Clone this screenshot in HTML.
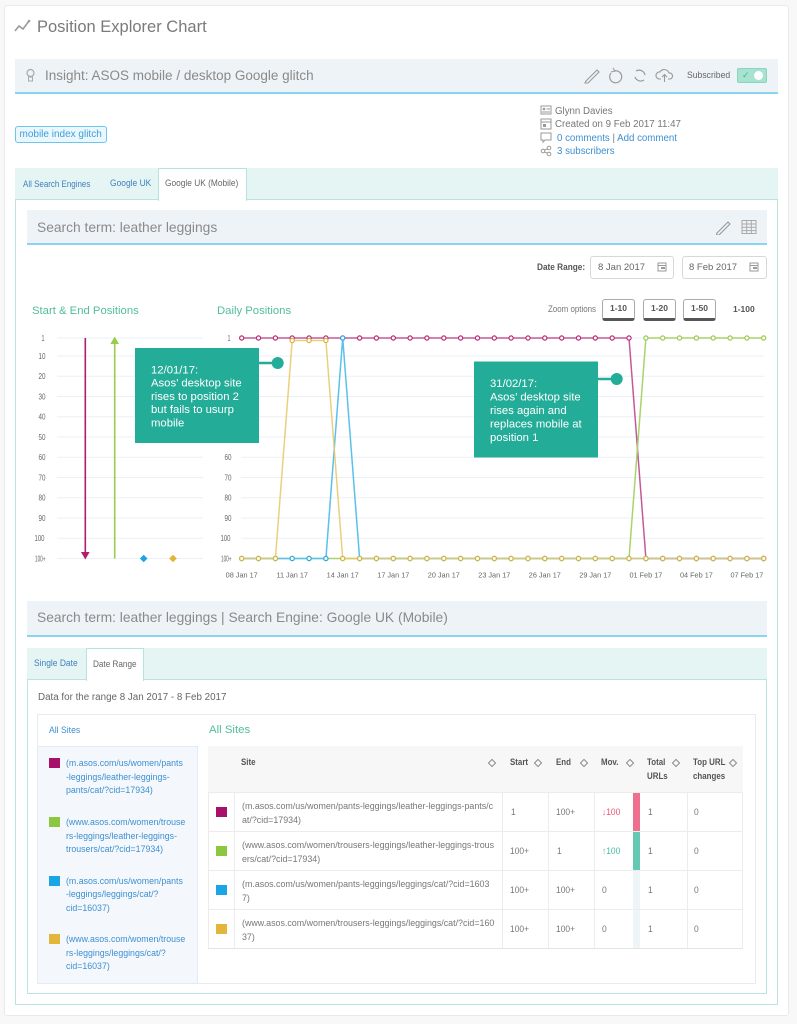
<!DOCTYPE html>
<html><head><meta charset="utf-8"><style>
*{margin:0;padding:0;box-sizing:border-box}
body{width:797px;height:1024px;background:#f8f8f8;font-family:"Liberation Sans",sans-serif;position:relative;overflow:hidden}
.a{position:absolute}
.t{position:absolute;white-space:nowrap}
.n{transform-origin:0 50%}
.bar{position:absolute;background:#eef3f8;border-bottom:2px solid #89d4f0}
.lk{color:#3d8fd1}
.sw{position:absolute;width:11px;height:10px}
.lt{position:absolute;left:66px;font-size:8.8px;line-height:13.5px;color:#3d8fd1;white-space:nowrap}
.st{position:absolute;left:242px;font-size:8.9px;line-height:14px;color:#777;white-space:nowrap}
.c{position:absolute;font-size:9.4px;line-height:12px;color:#777;white-space:nowrap;transform:scaleX(0.9);transform-origin:0 50%}
.h{position:absolute;font-size:9px;line-height:13.5px;color:#555;font-weight:bold;white-space:nowrap;transform:scaleX(0.88);transform-origin:0 50%}
.dm{position:absolute;width:6px;height:6px;border:1px solid #888;transform:rotate(45deg)}
.hl{position:absolute;height:1px;background:#ececec;left:208px;width:535px}
.vl{position:absolute;width:1px;background:#ececec;top:792px;height:156px}
.btn{position:absolute;top:299px;height:22px;width:33px;background:#fff;border:1px solid #aaa;border-bottom:3px solid #555;border-radius:3px;font-size:8.5px;font-weight:bold;color:#555;text-align:center;line-height:17px}
</style></head><body>

<!-- card -->
<div class="a" style="left:4px;top:5px;width:785px;height:1011px;background:#fff;border:1px solid #e9e9e9;border-radius:3px"></div>

<!-- title -->
<svg class="a" style="left:14px;top:19px" width="18" height="14"><polyline points="1,12 5,7 9,10 15,2" fill="none" stroke="#9a9a9a" stroke-width="1.6"/><circle cx="15" cy="2" r="1.3" fill="#9a9a9a"/></svg>
<div class="t" style="left:37px;top:17px;font-size:16.5px;line-height:20px;color:#7a7a7a">Position Explorer Chart</div>

<!-- insight bar -->
<div class="bar" style="left:15px;top:59px;width:763px;height:35px"></div>
<svg class="a" style="left:26px;top:68px" width="9" height="15"><circle cx="4.5" cy="5" r="3.5" fill="none" stroke="#aaa" stroke-width="1.2"/><rect x="2.5" y="9" width="4" height="4" fill="none" stroke="#aaa" stroke-width="1"/></svg>
<div class="t" style="left:45px;top:67px;font-size:13.5px;line-height:18px;color:#8a8a8a">Insight: ASOS mobile / desktop Google glitch</div>
<svg class="a" style="left:584px;top:67px" width="92" height="17">
<path d="M2,14 L13,3 L15,5 L4,16 L1,16 Z" fill="none" stroke="#999" stroke-width="1.1"/>
<path d="M30,4 A6,6 0 1 1 27,6" fill="none" stroke="#999" stroke-width="1.2"/><path d="M29,1 L31,4 L27,5" fill="none" stroke="#999" stroke-width="1"/>
<path d="M52,4 A6,6 0 0 1 61,8" fill="none" stroke="#999" stroke-width="1.2"/><path d="M60,13 A6,6 0 0 1 51,10" fill="none" stroke="#999" stroke-width="1.2"/>
<path d="M77,12 L75,12 A3.5,3.5 0 0 1 76,5 A5,5 0 0 1 85,6 A3,3 0 0 1 86,12 L84,12" fill="none" stroke="#999" stroke-width="1.1"/><path d="M80.5,15 L80.5,8 M78,10 L80.5,7.5 L83,10" fill="none" stroke="#999" stroke-width="1.1"/>
</svg>
<div class="t n" style="left:687px;top:70px;font-size:9.6px;line-height:12px;color:#666;transform:scaleX(0.9)">Subscribed</div>
<div class="a" style="left:737px;top:68px;width:30px;height:15px;background:#a8e3d1;border:1px solid #8ad4be;border-radius:2px"></div>
<div class="t" style="left:742px;top:69px;font-size:9px;line-height:13px;color:#3fb58d">✓</div>
<div class="a" style="left:754px;top:71px;width:9px;height:9px;border-radius:50%;background:#fff"></div>

<!-- tag -->
<div class="a" style="left:15px;top:126px;width:92px;height:17px;border:1px solid #6cc6ee;background:#eaf7fd;border-radius:3px"></div>
<div class="t" style="left:19.5px;top:127px;font-size:10px;line-height:15px;color:#3ea0d9">mobile index glitch</div>

<!-- meta -->
<svg class="a" style="left:540px;top:104px" width="13" height="54">
<rect x="1" y="2" width="10" height="8" fill="none" stroke="#999" stroke-width="1"/><circle cx="4" cy="5" r="1.3" fill="#999"/><line x1="6.5" y1="5" x2="10" y2="5" stroke="#999"/><line x1="2" y1="8" x2="10" y2="8" stroke="#999"/>
<rect x="1" y="15" width="10" height="10" fill="none" stroke="#999" stroke-width="1"/><line x1="1" y1="18" x2="11" y2="18" stroke="#999"/><rect x="3" y="20" width="3" height="3" fill="#999"/>
<path d="M1,29 H11 V36 H5 L3,38 V36 H1 Z" fill="none" stroke="#999" stroke-width="1"/>
<circle cx="3" cy="47" r="1.8" fill="none" stroke="#999"/><circle cx="9" cy="44" r="1.8" fill="none" stroke="#999"/><circle cx="9" cy="50" r="1.8" fill="none" stroke="#999"/><line x1="4.5" y1="46" x2="7.5" y2="44.8" stroke="#999"/><line x1="4.5" y1="48" x2="7.5" y2="49.2" stroke="#999"/>
</svg>
<div class="t" style="left:555px;top:105px;font-size:9.7px;line-height:13px;color:#777">Glynn Davies</div>
<div class="t" style="left:555px;top:118px;font-size:9.7px;line-height:13px;color:#777">Created on 9 Feb 2017 11:47</div>
<div class="t" style="left:557px;top:131.5px;font-size:9.7px;line-height:13px;color:#777"><span class="lk">0 comments</span> | <span class="lk">Add comment</span></div>
<div class="t" style="left:557px;top:145px;font-size:9.7px;line-height:13px" ><span class="lk">3 subscribers</span></div>

<!-- tab bar 1 -->
<div class="a" style="left:15px;top:168px;width:763px;height:32px;background:#e5f5f4"></div>
<div class="a" style="left:15px;top:199px;width:763px;height:806px;border:1px solid #b8e3df;background:#fff"></div>
<div class="a" style="left:158px;top:168px;width:89px;height:33px;background:#fff;border:1px solid #b5e3df;border-bottom:none"></div>
<div class="t n" style="left:23px;top:178px;font-size:9.4px;line-height:12px;color:#3f7fbf;transform:scaleX(0.85)">All Search Engines</div>
<div class="t n" style="left:110px;top:178px;font-size:9.6px;line-height:12px;color:#3f7fbf;transform:scaleX(0.88)">Google UK</div>
<div class="t n" style="left:165px;top:178px;font-size:9.6px;line-height:12px;color:#666;transform:scaleX(0.87)">Google UK (Mobile)</div>

<!-- search bar 1 -->
<div class="bar" style="left:27px;top:210px;width:740px;height:35px"></div>
<div class="t" style="left:37px;top:219px;font-size:13.8px;line-height:18px;color:#8a8a8a">Search term: leather leggings</div>
<svg class="a" style="left:716px;top:219px" width="42" height="16">
<path d="M1,14 L12,3 L14,5 L3,16 L0,16 Z" fill="none" stroke="#999" stroke-width="1.1"/>
<rect x="26" y="1.5" width="14" height="13" fill="none" stroke="#aaa" stroke-width="1"/><line x1="26" y1="5" x2="40" y2="5" stroke="#aaa"/><line x1="26" y1="8.3" x2="40" y2="8.3" stroke="#aaa"/><line x1="26" y1="11.6" x2="40" y2="11.6" stroke="#aaa"/><line x1="30.7" y1="1.5" x2="30.7" y2="14.5" stroke="#aaa"/><line x1="35.3" y1="1.5" x2="35.3" y2="14.5" stroke="#aaa"/>
</svg>

<!-- date range -->
<div class="t n" style="left:537px;top:262px;font-size:9.6px;line-height:12px;color:#555;font-weight:bold;transform:scaleX(0.86)">Date Range:</div>
<div class="a" style="left:590px;top:256px;width:84px;height:23px;border:1px solid #d8d8d8;border-radius:3px;background:#fff"></div>
<div class="t" style="left:598px;top:261px;font-size:9.5px;line-height:13px;color:#666">8 Jan 2017</div>
<div class="a" style="left:682px;top:256px;width:85px;height:23px;border:1px solid #d8d8d8;border-radius:3px;background:#fff"></div>
<div class="t" style="left:689px;top:261px;font-size:9.5px;line-height:13px;color:#666">8 Feb 2017</div>
<svg class="a" style="left:657px;top:262px" width="110" height="11">
<rect x="1" y="1" width="8" height="8" fill="none" stroke="#999"/><line x1="1" y1="3.5" x2="9" y2="3.5" stroke="#999"/><rect x="4" y="5" width="4" height="2" fill="#999"/>
<rect x="93" y="1" width="8" height="8" fill="none" stroke="#999"/><line x1="93" y1="3.5" x2="101" y2="3.5" stroke="#999"/><rect x="96" y="5" width="4" height="2" fill="#999"/>
</svg>

<!-- zoom options -->
<div class="t n" style="left:548px;top:303px;font-size:9px;line-height:12px;color:#777;transform:scaleX(0.88)">Zoom options</div>
<div class="btn" style="left:602px">1-10</div>
<div class="btn" style="left:643px">1-20</div>
<div class="btn" style="left:683px">1-50</div>
<div class="t" style="left:733px;top:303px;font-size:8.5px;line-height:12px;color:#555;font-weight:bold">1-100</div>

<!-- chart headers -->
<div class="t" style="left:32px;top:304px;font-size:11.3px;line-height:15px;color:#52bd9d">Start &amp; End Positions</div>
<div class="t" style="left:217px;top:304px;font-size:11.3px;line-height:15px;color:#52bd9d">Daily Positions</div>

<!-- charts -->
<svg class="a" style="left:0;top:0" width="797" height="600" font-family="Liberation Sans, sans-serif">
<defs>
<marker id="m1" markerUnits="userSpaceOnUse" markerWidth="8" markerHeight="8" refX="4" refY="4"><circle cx="4" cy="4" r="2.1" fill="#fff" stroke="#bb2a7a" stroke-width="1.2"/></marker>
<marker id="m2" markerUnits="userSpaceOnUse" markerWidth="8" markerHeight="8" refX="4" refY="4"><circle cx="4" cy="4" r="2.1" fill="#fff" stroke="#98cc4c" stroke-width="1.2"/></marker>
<marker id="m3" markerUnits="userSpaceOnUse" markerWidth="8" markerHeight="8" refX="4" refY="4"><circle cx="4" cy="4" r="2.1" fill="#fff" stroke="#2fa9e3" stroke-width="1.2"/></marker>
<marker id="m4" markerUnits="userSpaceOnUse" markerWidth="8" markerHeight="8" refX="4" refY="4"><circle cx="4" cy="4" r="2.1" fill="#fff" stroke="#d9b440" stroke-width="1.2"/></marker>
</defs>
<g stroke="#eaf0f5" stroke-width="1">
<line x1="57" y1="338" x2="203" y2="338"/><line x1="57" y1="356" x2="203" y2="356"/><line x1="57" y1="376.25" x2="203" y2="376.25"/><line x1="57" y1="396.5" x2="203" y2="396.5"/><line x1="57" y1="416.75" x2="203" y2="416.75"/><line x1="57" y1="437" x2="203" y2="437"/><line x1="57" y1="457.25" x2="203" y2="457.25"/><line x1="57" y1="477.5" x2="203" y2="477.5"/><line x1="57" y1="497.75" x2="203" y2="497.75"/><line x1="57" y1="518" x2="203" y2="518"/><line x1="57" y1="538.25" x2="203" y2="538.25"/><line x1="57" y1="558.5" x2="203" y2="558.5"/>
<line x1="241" y1="338" x2="764" y2="338"/><line x1="241" y1="356" x2="764" y2="356"/><line x1="241" y1="376.25" x2="764" y2="376.25"/><line x1="241" y1="396.5" x2="764" y2="396.5"/><line x1="241" y1="416.75" x2="764" y2="416.75"/><line x1="241" y1="437" x2="764" y2="437"/><line x1="241" y1="457.25" x2="764" y2="457.25"/><line x1="241" y1="477.5" x2="764" y2="477.5"/><line x1="241" y1="497.75" x2="764" y2="497.75"/><line x1="241" y1="518" x2="764" y2="518"/><line x1="241" y1="538.25" x2="764" y2="538.25"/><line x1="241" y1="558.5" x2="764" y2="558.5"/>
</g>
<g font-size="8" fill="#666">
<text x="41.5" y="341" textLength="3" lengthAdjust="spacingAndGlyphs">1</text>
<text x="38.5" y="359" textLength="7" lengthAdjust="spacingAndGlyphs">10</text>
<text x="38.5" y="379.2" textLength="7" lengthAdjust="spacingAndGlyphs">20</text>
<text x="38.5" y="399.5" textLength="7" lengthAdjust="spacingAndGlyphs">30</text>
<text x="38.5" y="419.7" textLength="7" lengthAdjust="spacingAndGlyphs">40</text>
<text x="38.5" y="440" textLength="7" lengthAdjust="spacingAndGlyphs">50</text>
<text x="38.5" y="460.2" textLength="7" lengthAdjust="spacingAndGlyphs">60</text>
<text x="38.5" y="480.5" textLength="7" lengthAdjust="spacingAndGlyphs">70</text>
<text x="38.5" y="500.7" textLength="7" lengthAdjust="spacingAndGlyphs">80</text>
<text x="38.5" y="521" textLength="7" lengthAdjust="spacingAndGlyphs">90</text>
<text x="34.5" y="541.2" textLength="10" lengthAdjust="spacingAndGlyphs">100</text>
<text x="35" y="561.5" textLength="10.5" lengthAdjust="spacingAndGlyphs">100+</text>
<text x="227.5" y="341" textLength="3" lengthAdjust="spacingAndGlyphs">1</text>
<text x="224.5" y="359" textLength="7" lengthAdjust="spacingAndGlyphs">10</text>
<text x="224.5" y="379.2" textLength="7" lengthAdjust="spacingAndGlyphs">20</text>
<text x="224.5" y="399.5" textLength="7" lengthAdjust="spacingAndGlyphs">30</text>
<text x="224.5" y="419.7" textLength="7" lengthAdjust="spacingAndGlyphs">40</text>
<text x="224.5" y="440" textLength="7" lengthAdjust="spacingAndGlyphs">50</text>
<text x="224.5" y="460.2" textLength="7" lengthAdjust="spacingAndGlyphs">60</text>
<text x="224.5" y="480.5" textLength="7" lengthAdjust="spacingAndGlyphs">70</text>
<text x="224.5" y="500.7" textLength="7" lengthAdjust="spacingAndGlyphs">80</text>
<text x="224.5" y="521" textLength="7" lengthAdjust="spacingAndGlyphs">90</text>
<text x="220.5" y="541.2" textLength="10" lengthAdjust="spacingAndGlyphs">100</text>
<text x="221" y="561.5" textLength="10.5" lengthAdjust="spacingAndGlyphs">100+</text>
</g>
<g font-size="7.3" fill="#666" text-anchor="middle">
<text x="241.7" y="577.5">08 Jan 17</text><text x="292.2" y="577.5">11 Jan 17</text><text x="342.7" y="577.5">14 Jan 17</text><text x="393.3" y="577.5">17 Jan 17</text><text x="443.8" y="577.5">20 Jan 17</text><text x="494.3" y="577.5">23 Jan 17</text><text x="544.8" y="577.5">26 Jan 17</text><text x="595.3" y="577.5">29 Jan 17</text><text x="645.9" y="577.5">01 Feb 17</text><text x="696.4" y="577.5">04 Feb 17</text><text x="746.9" y="577.5">07 Feb 17</text>
</g>
<!-- start/end -->
<line x1="85.3" y1="338" x2="85.3" y2="553" stroke="#b01d6e" stroke-width="1.6"/>
<polygon points="81,552 89.6,552 85.3,559.5" fill="#b01d6e"/>
<line x1="114.7" y1="558.5" x2="114.7" y2="343" stroke="#98cc4c" stroke-width="1.6"/>
<polygon points="110.4,344 119,344 114.7,336.5" fill="#98cc4c"/>
<polygon points="143.7,554.7 147.5,558.5 143.7,562.3 139.9,558.5" fill="#1ea3e6"/>
<polygon points="173,554.7 176.8,558.5 173,562.3 169.2,558.5" fill="#e2b43a"/>
<!-- daily series -->
<g fill="none" stroke-width="1.5" stroke-linejoin="round">
<polyline stroke="#c35a98" marker-start="url(#m1)" marker-mid="url(#m1)" marker-end="url(#m1)" points="241.7,338 258.5,338 275.4,338 292.2,338 309.1,338 325.9,338 342.7,338 359.6,338 376.4,338 393.3,338 410.1,338 426.9,338 443.8,338 460.6,338 477.5,338 494.3,338 511.1,338 528,338 544.8,338 561.7,338 578.5,338 595.3,338 612.2,338 629,338 645.9,558.5 662.7,558.5 679.5,558.5 696.4,558.5 713.2,558.5 730.1,558.5 746.9,558.5 763.7,558.5"/>
<polyline stroke="#a8d46a" marker-start="url(#m2)" marker-mid="url(#m2)" marker-end="url(#m2)" points="241.7,558.5 258.5,558.5 275.4,558.5 292.2,558.5 309.1,558.5 325.9,558.5 342.7,558.5 359.6,558.5 376.4,558.5 393.3,558.5 410.1,558.5 426.9,558.5 443.8,558.5 460.6,558.5 477.5,558.5 494.3,558.5 511.1,558.5 528,558.5 544.8,558.5 561.7,558.5 578.5,558.5 595.3,558.5 612.2,558.5 629,558.5 645.9,338 662.7,338 679.5,338 696.4,338 713.2,338 730.1,338 746.9,338 763.7,338"/>
<polyline stroke="#5cc0ec" marker-start="url(#m3)" marker-mid="url(#m3)" marker-end="url(#m3)" points="241.7,558.5 258.5,558.5 275.4,558.5 292.2,558.5 309.1,558.5 325.9,558.5 342.7,338 359.6,558.5 376.4,558.5 393.3,558.5 410.1,558.5 426.9,558.5 443.8,558.5 460.6,558.5 477.5,558.5 494.3,558.5 511.1,558.5 528,558.5 544.8,558.5 561.7,558.5 578.5,558.5 595.3,558.5 612.2,558.5 629,558.5 645.9,558.5 662.7,558.5 679.5,558.5 696.4,558.5 713.2,558.5 730.1,558.5 746.9,558.5 763.7,558.5"/>
<polyline stroke="#e9c766" stroke-opacity="0.85" marker-start="url(#m4)" marker-mid="url(#m4)" marker-end="url(#m4)" points="241.7,558.5 258.5,558.5 275.4,558.5 292.2,340.5 309.1,340.5 325.9,340.5 342.7,558.5 359.6,558.5 376.4,558.5 393.3,558.5 410.1,558.5 426.9,558.5 443.8,558.5 460.6,558.5 477.5,558.5 494.3,558.5 511.1,558.5 528,558.5 544.8,558.5 561.7,558.5 578.5,558.5 595.3,558.5 612.2,558.5 629,558.5 645.9,558.5 662.7,558.5 679.5,558.5 696.4,558.5 713.2,558.5 730.1,558.5 746.9,558.5 763.7,558.5"/>
</g>
<!-- annotations -->
<rect x="135" y="348" width="124" height="95" fill="#23ad98"/>
<line x1="259" y1="363" x2="276" y2="363" stroke="#23ad98" stroke-width="2.5"/>
<circle cx="277.7" cy="363" r="6" fill="#23ad98"/>
<g font-size="11.3" fill="#fff">
<text x="151" y="373.3">12/01/17:</text><text x="151" y="386.6">Asos’ desktop site</text><text x="151" y="399.9">rises to position 2</text><text x="151" y="413.2">but fails to usurp</text><text x="151" y="426.5">mobile</text>
</g>
<rect x="474" y="361.5" width="124" height="96" fill="#23ad98"/>
<line x1="598" y1="379" x2="615" y2="379" stroke="#23ad98" stroke-width="2.5"/>
<circle cx="616.7" cy="379" r="6" fill="#23ad98"/>
<g font-size="11.3" fill="#fff">
<text x="490" y="387">31/02/17:</text><text x="490" y="400.6">Asos’ desktop site</text><text x="490" y="414">rises again and</text><text x="490" y="427.6">replaces mobile at</text><text x="490" y="441">position 1</text>
</g>
</svg>

<!-- search bar 2 -->
<div class="bar" style="left:27px;top:601px;width:740px;height:36px"></div>
<div class="t" style="left:37px;top:609px;font-size:13.8px;line-height:18px;color:#8a8a8a">Search term: leather leggings | Search Engine: Google UK (Mobile)</div>

<!-- tab bar 2 -->
<div class="a" style="left:27px;top:648px;width:740px;height:32px;background:#e5f5f4"></div>
<div class="a" style="left:27px;top:679px;width:740px;height:315px;border:1px solid #b8e3df;background:#fff"></div>
<div class="a" style="left:86px;top:648px;width:58px;height:33px;background:#fff;border:1px solid #b5e3df;border-bottom:none"></div>
<div class="t n" style="left:34px;top:658px;font-size:9.6px;line-height:12px;color:#3f7fbf;transform:scaleX(0.88)">Single Date</div>
<div class="t n" style="left:93px;top:658px;font-size:9.4px;line-height:12px;color:#666;transform:scaleX(0.87)">Date Range</div>

<div class="t" style="left:38px;top:690.5px;font-size:9.8px;line-height:13px;color:#666">Data for the range 8 Jan 2017 - 8 Feb 2017</div>

<!-- sites box -->
<div class="a" style="left:37px;top:714px;width:719px;height:270px;border:1px solid #e3ecf3;background:#fff"></div>
<div class="t n" style="left:49px;top:725px;font-size:9.6px;line-height:12px;color:#3d8fd1;transform:scaleX(0.9)">All Sites</div>
<div class="a" style="left:38px;top:746px;width:160px;height:237px;background:#f4f8fc;border-top:1px solid #e3ecf3;border-right:1px solid #e3ecf3"></div>
<div class="t" style="left:209px;top:723px;font-size:11.4px;line-height:15px;color:#52bd9d">All Sites</div>

<div class="sw" style="left:49px;top:758px;background:#a8106a"></div>
<div class="lt" style="top:757px">(m.asos.com/us/women/pants<br>-leggings/leather-leggings-<br>pants/cat/?cid=17934)</div>
<div class="sw" style="left:49px;top:817px;background:#8dc63f"></div>
<div class="lt" style="top:816px">(www.asos.com/women/trouse<br>rs-leggings/leather-leggings-<br>trousers/cat/?cid=17934)</div>
<div class="sw" style="left:49px;top:876px;background:#19a5e6"></div>
<div class="lt" style="top:874.5px">(m.asos.com/us/women/pants<br>-leggings/leggings/cat/?<br>cid=16037)</div>
<div class="sw" style="left:49px;top:934px;background:#e3b53b"></div>
<div class="lt" style="top:933px">(www.asos.com/women/trouse<br>rs-leggings/leggings/cat/?<br>cid=16037)</div>

<!-- table -->
<div class="a" style="left:208px;top:746px;width:535px;height:46px;background:#f7f7f7"></div>
<div class="a" style="left:208px;top:792px;width:535px;height:156px;background:#fff;border-left:1px solid #ececec;border-right:1px solid #ececec"></div>
<div class="h" style="left:241px;top:756px">Site</div>
<div class="h" style="left:510px;top:756px">Start</div>
<div class="h" style="left:556px;top:756px">End</div>
<div class="h" style="left:601px;top:756px">Mov.</div>
<div class="h" style="left:647px;top:756px">Total<br>URLs</div>
<div class="h" style="left:693px;top:756px">Top URL<br>changes</div>
<div class="dm" style="left:489px;top:760px"></div>
<div class="dm" style="left:535px;top:760px"></div>
<div class="dm" style="left:581px;top:760px"></div>
<div class="dm" style="left:627px;top:760px"></div>
<div class="dm" style="left:673px;top:760px"></div>
<div class="dm" style="left:730px;top:760px"></div>

<div class="a" style="left:633px;top:792px;width:7px;height:39px;background:#ef6f8f"></div>
<div class="a" style="left:633px;top:831px;width:7px;height:39px;background:#64c8b4"></div>
<div class="a" style="left:633px;top:870px;width:7px;height:78px;background:#eef4f8"></div>

<div class="hl" style="top:792px"></div><div class="hl" style="top:831px"></div><div class="hl" style="top:870px"></div><div class="hl" style="top:909px"></div><div class="hl" style="top:948px;background:#e4e4e4"></div>
<div class="vl" style="left:234px"></div><div class="vl" style="left:502px"></div><div class="vl" style="left:548px"></div><div class="vl" style="left:594px"></div><div class="vl" style="left:687px"></div>

<div class="sw" style="left:216px;top:807px;background:#a8106a"></div>
<div class="sw" style="left:216px;top:846px;background:#8dc63f"></div>
<div class="sw" style="left:216px;top:885px;background:#19a5e6"></div>
<div class="sw" style="left:216px;top:924px;background:#e3b53b"></div>

<div class="st" style="top:799px">(m.asos.com/us/women/pants-leggings/leather-leggings-pants/c<br>at/?cid=17934)</div>
<div class="st" style="top:838px">(www.asos.com/women/trousers-leggings/leather-leggings-trous<br>ers/cat/?cid=17934)</div>
<div class="st" style="top:877px">(m.asos.com/us/women/pants-leggings/leggings/cat/?cid=1603<br>7)</div>
<div class="st" style="top:916px">(www.asos.com/women/trousers-leggings/leggings/cat/?cid=160<br>37)</div>

<div class="c" style="left:511px;top:806px">1</div>
<div class="c" style="left:556px;top:806px">100+</div>
<div class="c" style="left:602px;top:806px;color:#e8536e">↓100</div>
<div class="c" style="left:648px;top:806px">1</div>
<div class="c" style="left:694px;top:806px">0</div>

<div class="c" style="left:510px;top:845px">100+</div>
<div class="c" style="left:557px;top:845px">1</div>
<div class="c" style="left:602px;top:845px;color:#45bd9c">↑100</div>
<div class="c" style="left:648px;top:845px">1</div>
<div class="c" style="left:694px;top:845px">0</div>

<div class="c" style="left:510px;top:884px">100+</div>
<div class="c" style="left:556px;top:884px">100+</div>
<div class="c" style="left:602px;top:884px">0</div>
<div class="c" style="left:648px;top:884px">1</div>
<div class="c" style="left:694px;top:884px">0</div>

<div class="c" style="left:510px;top:923px">100+</div>
<div class="c" style="left:556px;top:923px">100+</div>
<div class="c" style="left:602px;top:923px">0</div>
<div class="c" style="left:648px;top:923px">1</div>
<div class="c" style="left:694px;top:923px">0</div>

</body></html>
